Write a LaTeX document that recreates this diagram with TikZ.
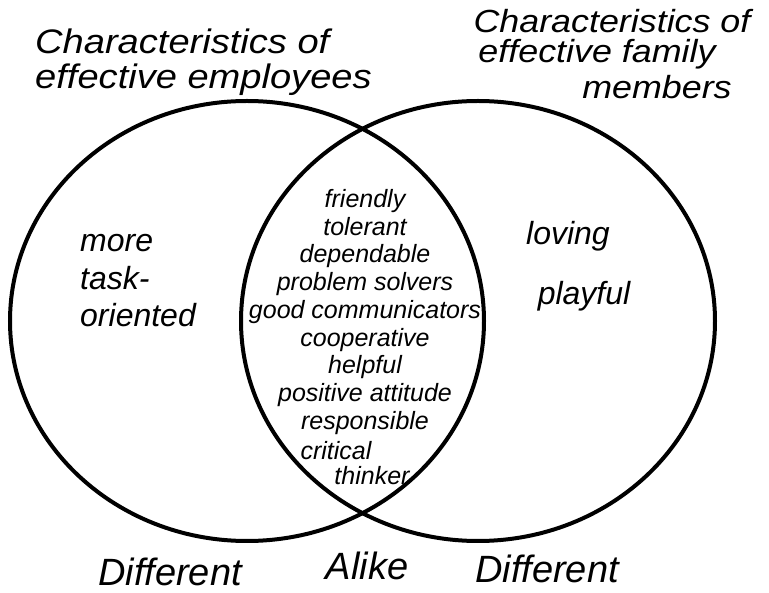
\documentclass[tikz,border=0pt]{standalone}
\usepackage{fontspec}
\setmainfont{Liberation Sans}
\newfontfamily\wideface[FakeStretch=1.12]{Liberation Sans}
\usepackage{tikz}
\usetikzlibrary{shapes.geometric}
\tikzset{
  set/.style     ={draw=black,line width=4pt,ellipse,inner sep=0pt,
                   minimum width=474pt,minimum height=440pt},
  head/.style    ={font=\wideface\fontsize{34}{35}\selectfont\itshape,inner sep=0pt,
                   align=left},
  side/.style    ={font=\fontsize{32}{37.5}\selectfont\itshape,inner sep=0pt,
                   align=left},
  trait/.style   ={font=\fontsize{25}{27.75}\selectfont\itshape,inner sep=0pt,
                   align=center},
  foot/.style    ={font=\fontsize{38}{40}\selectfont\itshape,inner sep=0pt},
}

\begin{document}
\begin{tikzpicture}[x=1pt,y=-1pt]
\useasboundingbox (0,0) rectangle (769,593);
% the two sets
\node[set] (emp) at (247,321) {};
\node[set] (fam) at (478,321) {};
% headings
\node[head,anchor=west] (emphead) at (35,62)
  {Characteristics of\\effective employees};
\node[head,font=\wideface\fontsize{32}{33}\selectfont\itshape] (famhead1) at (612,21)
  {Characteristics of};
\node[head,font=\wideface\fontsize{32}{33}\selectfont\itshape] (famhead2) at (597,54)
  {effective family};
\node[head,font=\wideface\fontsize{32}{33}\selectfont\itshape] (famhead3) at (657,87)
  {members};
% different, employees
\node[side,anchor=west] (empown) at (80,281) {more\\task-\\oriented};
% different, family
\node[side] (loving) at (568,236) {loving};
\node[side] (playful) at (584,296) {playful};
% alike
\node[trait] (alike) at (365,312)
  {friendly\\tolerant\\dependable\\problem solvers\\good communicators\\
   cooperative\\helpful\\positive attitude\\responsible};
\node[trait] (critical) at (336,451) {critical};
\node[trait] (thinker) at (372,476) {thinker};
% bottom labels
\node[foot] (difemp) at (170,572) {Different};
\node[foot] (alikelab) at (367,566) {Alike};
\node[foot] (diffam) at (547,569) {Different};
\end{tikzpicture}
\end{document}
